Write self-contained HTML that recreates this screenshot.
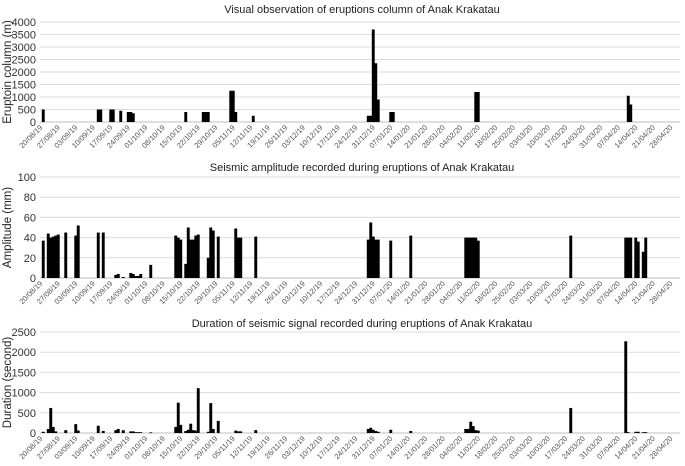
<!DOCTYPE html>
<html><head><meta charset="utf-8"><style>
html,body{margin:0;padding:0;background:#fff;}
svg{display:block;font-family:"Liberation Sans",sans-serif;}
</style></head><body>
<svg id="chart" width="685" height="466"></svg>
<script>
const colDays=[0,22,23,27,28,31,34,35,36,57,64,65,66,75,76,77,84,130,131,132,133,134,139,140,173,174,234,235];
const colValues=[500,500,500,500,500,450,400,400,350,400,400,400,400,1250,1250,400,250,250,250,3700,2350,900,400,400,1200,1200,1050,700];
const ampDays=[0,2,3,4,5,6,9,13,14,22,24,29,30,32,35,36,37,38,39,43,53,54,55,57,58,59,60,61,62,66,67,68,70,77,78,79,85,130,131,132,133,134,139,147,169,170,171,172,173,174,211,233,234,235,237,238,240,241];
const ampValues=[37,44,40,41,42,43,45,42,52,45,45,3,4,1,5,4,2,2,4,13,42,40,38,14,50,38,38,42,43,20,50,47,41,49,40,40,41,38,55,41,38,38,37,42,40,40,40,40,40,37,42,40,40,40,40,36,26,40];
const durDays=[0,2,3,4,5,9,13,14,22,24,29,30,32,35,36,37,38,39,43,53,54,55,57,58,59,60,61,62,66,67,68,70,77,78,79,85,130,131,132,133,134,139,147,169,170,171,172,173,174,211,233,234,237,238,240,241];
const durValues=[30,100,620,150,40,70,220,60,180,50,70,100,70,40,40,20,20,20,15,150,750,200,50,80,230,70,60,1110,30,740,100,300,60,40,40,70,100,130,80,50,30,80,50,100,100,280,170,70,60,620,2270,20,30,30,20,20];
const colTicks=[0,500,1000,1500,2000,2500,3000,3500,4000];
const ampTicks=[0,20,40,60,80,100];
const durTicks=[0,500,1000,1500,2000,2500];

const NS="http://www.w3.org/2000/svg";
const svg=document.getElementById('chart');
function mk(tag,attrs,parent){const e=document.createElementNS(NS,tag);for(const k in attrs)e.setAttribute(k,attrs[k]);(parent||svg).appendChild(e);return e;}
const X0=42,DX=2.5,XR=680;
function xScale(d){return X0+d*DX;}
const start=new Date(2019,7,20);
function fmt(d){const dt=new Date(start.getTime()+d*86400000);const p=n=>String(n).padStart(2,'0');return p(dt.getDate())+'/'+p(dt.getMonth()+1)+'/'+String(dt.getFullYear()).slice(2);}

function panel(o){
  const g=mk('g',{});
  
  
  const yS=v=>o.y0-(v/o.max)*(o.y0-o.y1);
  const t=mk('text',{x:362,y:o.titleY,'text-anchor':'middle','font-size':11,fill:'#222'},g);
  t.textContent=o.title;
  
  
  o.ticks.forEach(v=>{
    const y=yS(v);
    const ln=mk('line',{x1:40,x2:XR,y1:y,y2:y,stroke:v===0?'#bfbfbf':'#dcdcdc','stroke-width':1},g);
    
    
    const tx=mk('text',{x:36,y:y+4,'text-anchor':'end','font-size':11,fill:'#333'},g);
    tx.textContent=v;
    
    
  });
  const cy=(o.y0+o.y1)/2;
  const yt=mk('text',{x:0,y:0,transform:`translate(8,${cy}) rotate(-90)`,'text-anchor':'middle','dominant-baseline':'middle','font-size':11.5,fill:'#222'},g);
  yt.textContent=o.ytitle;
  
  
  for(let d=0;d<=252;d+=7){
    const x=xScale(d);
    const lb=mk('text',{x:0,y:0,transform:`translate(${x+1},${o.y0+6}) rotate(-45)`,'text-anchor':'end','font-size':7.5,fill:'#555'},g);
    lb.textContent=fmt(d);
    
    
  }
  o.days.forEach((d,i)=>{
    const y=yS(o.vals[i]);
    const r=mk('rect',{x:xScale(d)-0.2,y:y,width:DX+0.4,height:Math.max(o.y0-y,0.8),fill:'#000'},g);
    
    
  });
}
panel({name:'eruption-column-panel',title:'Visual observation of eruptions column of Anak Krakatau',titleY:13,y0:122,y1:22,max:4000,ticks:colTicks,ytitle:'Eruptoin column (m)',days:colDays,vals:colValues});
panel({name:'seismic-amplitude-panel',title:'Seismic amplitude recorded during eruptions of Anak Krakatau',titleY:171,y0:278,y1:177,max:100,ticks:ampTicks,ytitle:'Amplitude (mm)',days:ampDays,vals:ampValues});
panel({name:'seismic-duration-panel',title:'Duration of seismic signal recorded during eruptions of Anak Krakatau',titleY:327,y0:433,y1:332,max:2500,ticks:durTicks,ytitle:'Duration (second)',days:durDays,vals:durValues});
</script>
</body></html>
